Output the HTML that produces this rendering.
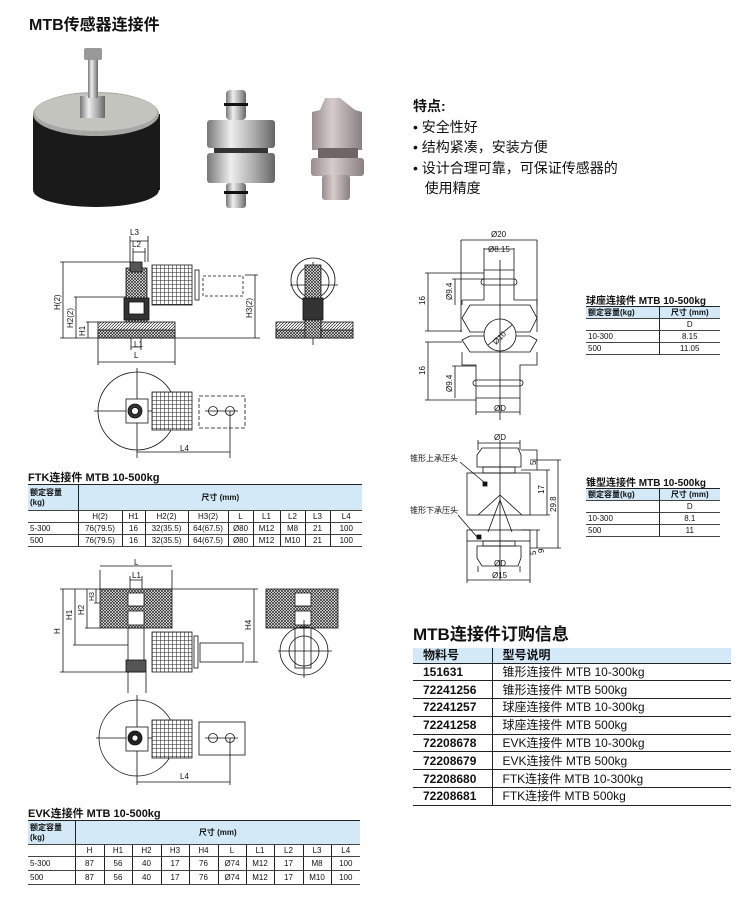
<!DOCTYPE html>
<html><head><meta charset="utf-8">
<style>
*{margin:0;padding:0;box-sizing:border-box}
body{width:750px;height:911px;background:#fff;position:relative;overflow:hidden;font-family:"Liberation Sans","Noto Sans CJK SC",sans-serif;color:#111}
.a{position:absolute}
.t{position:absolute;font-weight:bold;white-space:nowrap}
table{position:absolute;border-collapse:collapse;font-size:8px;line-height:1}
td{padding:0 2px;height:12px;text-align:center;border-left:1px solid #222;border-bottom:1px solid #444;white-space:nowrap}
td:first-child{border-left:none;text-align:left}
.hd td{background:#d3e9f7;font-weight:bold}
.ord{font-size:12px;border-top:none}
.ord td{height:17.8px;border-bottom:1px solid #222;text-align:left;padding-left:10px}
.ord td:first-child{font-weight:bold;padding-left:10px}
.ord .hd td{height:15px;background:#d3e9f7;font-weight:bold}
</style></head><body>
<div class="t" style="left:29px;top:11px;font-size:16px">MTB传感器连接件</div>

<div class="a" style="left:413px;top:96px;font-size:14px;line-height:20.5px">
<b>特点:</b><br>• 安全性好<br>• 结构紧凑，安装方便<br>• 设计合理可靠，可保证传感器的<br>&nbsp;&nbsp;&nbsp;使用精度</div>

<svg class="a" style="left:0;top:0" width="750" height="911" viewBox="0 0 750 911">
<defs>
<pattern id="x" width="3" height="3" patternUnits="userSpaceOnUse"><rect width="3" height="3" fill="#fff"/><path d="M0 0L3 3M3 0L0 3" stroke="#222" stroke-width=".7"/></pattern>
<pattern id="h" width="3" height="3" patternUnits="userSpaceOnUse"><rect width="3" height="3" fill="#fff"/><path d="M0 3L3 0" stroke="#222" stroke-width=".7"/></pattern>
<pattern id="k" width="4" height="4" patternUnits="userSpaceOnUse"><rect width="4" height="4" fill="#fff"/><path d="M0 0H4M0 0V4" stroke="#222" stroke-width="1.1"/></pattern>
<linearGradient id="m" x1="0" x2="1"><stop offset="0" stop-color="#777"/><stop offset=".35" stop-color="#eee"/><stop offset=".7" stop-color="#aaa"/><stop offset="1" stop-color="#666"/></linearGradient>
<linearGradient id="p" x1="0" x2="1"><stop offset="0" stop-color="#988c8c"/><stop offset=".4" stop-color="#d6cccc"/><stop offset="1" stop-color="#8a7f80"/></linearGradient>
</defs>
<!-- photos -->
<rect x="33" y="114" width="127" height="76" fill="#1a1a1a"/>
<ellipse cx="96" cy="190" rx="63" ry="17" fill="#1a1a1a"/>
<ellipse cx="96" cy="114" rx="63" ry="22" fill="#a8a8a4"/>
<ellipse cx="96" cy="112" rx="61" ry="19" fill="#c4c4bf"/>
<rect x="80" y="96" width="25" height="22" fill="url(#m)"/>
<rect x="88" y="60" width="10" height="38" fill="url(#m)"/>
<rect x="84" y="48" width="18" height="12" rx="2" fill="#999"/>
<rect x="226" y="90" width="20" height="30" rx="4" fill="url(#m)"/>
<rect x="224" y="103" width="24" height="3" fill="#111"/>
<rect x="207" y="120" width="68" height="28" rx="3" fill="url(#m)"/>
<rect x="214" y="148" width="54" height="6" fill="#333"/>
<rect x="207" y="153" width="68" height="30" rx="3" fill="url(#m)"/>
<rect x="226" y="183" width="20" height="25" rx="3" fill="url(#m)"/>
<rect x="224" y="191" width="24" height="3" fill="#111"/>
<path d="M325 98 L340 98 L355 110 L362 112 L362 150 L312 150 L312 112 L320 110Z" fill="url(#p)"/>
<rect x="318" y="148" width="40" height="10" fill="#6f6565"/>
<rect x="311" y="158" width="53" height="18" rx="3" fill="url(#p)"/>
<rect x="322" y="175" width="28" height="25" rx="3" fill="url(#p)"/>

<g stroke="#111" stroke-width=".8" fill="none" font-size="8" font-family="Liberation Sans">
<!-- FTK front -->
<rect x="98" y="322" width="77" height="16" fill="url(#h)"/>
<rect x="98" y="330" width="77" height="8" fill="url(#x)"/>
<rect x="126" y="268" width="21" height="54" fill="url(#x)"/>
<rect x="124" y="298" width="25" height="22" fill="#333"/>
<rect x="129" y="302" width="15" height="12" fill="#fff"/>
<rect x="130" y="262" width="12" height="10" fill="#555"/>
<rect x="152" y="265" width="40" height="40" fill="url(#k)"/>
<rect x="195" y="270" width="4" height="30"/>
<rect x="203" y="276" width="40" height="20" stroke-dasharray="3 2"/>
<path d="M130 236V262M148 236V262M130 241H148M133 248V262M145 248V262M133 252H145"/>
<path d="M60 262H130M63 262V338M74 297H126M76 297V338M86 322H98M88 322V338M60 338H260M255 275V338M245 275H258"/>
<path d="M98 338V365M175 338V365M98 362H175M131 338V350M141 338V350M131 347H141"/>
<g fill="#111" stroke="none"><text x="130" y="235">L3</text><text x="132" y="247">L2</text><text x="134" y="347">L1</text><text x="134" y="358">L</text>
<text transform="translate(60,310) rotate(-90)">H(2)</text><text transform="translate(73,328) rotate(-90)">H2(2)</text><text transform="translate(85,336) rotate(-90)">H1</text><text transform="translate(252,318) rotate(-90)">H3(2)</text></g>
<!-- FTK side -->
<circle cx="313" cy="280" r="22"/><circle cx="313" cy="282" r="16"/>
<path d="M290 285H338M313 262V345"/>
<rect x="276" y="322" width="77" height="16" fill="url(#h)"/>
<rect x="276" y="330" width="77" height="8" fill="url(#x)"/>
<rect x="305" y="265" width="16" height="73" fill="url(#x)"/>
<rect x="303" y="298" width="20" height="22" fill="#333"/>
<!-- FTK top -->
<circle cx="137" cy="411" r="39"/>
<path d="M94 411H175M137 368V455"/>
<rect x="126" y="399" width="22" height="24" fill="#fff"/>
<circle cx="135" cy="411" r="7" fill="#333"/><circle cx="135" cy="411" r="3.5" fill="#fff"/>
<rect x="152" y="392" width="40" height="38" fill="url(#k)"/>
<rect x="199" y="396" width="46" height="32" stroke-dasharray="4 2"/>
<circle cx="213" cy="411" r="4.5"/><circle cx="230" cy="411" r="4.5"/>
<path d="M205 411H238M137 455V458M230 411V458M137 452H230"/>
<text x="180" y="451" fill="#111" stroke="none">L4</text>

<!-- EVK front -->
<rect x="100" y="589" width="72" height="39" fill="url(#x)"/>
<rect x="128" y="593" width="16" height="13" fill="#fff"/><rect x="128" y="611" width="16" height="14" fill="#fff"/>
<rect x="128" y="628" width="16" height="44"/>
<rect x="126" y="660" width="20" height="12" fill="#555"/>
<rect x="152" y="632" width="40" height="40" fill="url(#k)"/>
<rect x="194" y="636" width="4" height="32"/>
<rect x="200" y="643" width="43" height="19"/>
<path d="M100 570V589M172 570V589M100 566H172M130 576V589M142 576V589M130 580H142"/>
<path d="M60 589H258M63 589V672M60 672H130M75 589V645M73 645H128M87 589V628M85 628H100M96 589V603M94 603H100M254 589V662M245 662H258M128 672V693M146 672V693"/>
<g fill="#111" stroke="none"><text x="134" y="565">L</text><text x="132" y="578">L1</text>
<text transform="translate(60,634) rotate(-90)">H</text><text transform="translate(72,620) rotate(-90)">H1</text><text transform="translate(84,615) rotate(-90)">H2</text><text transform="translate(94,601) rotate(-90)" font-size="7">H3</text><text transform="translate(251,630) rotate(-90)">H4</text></g>
<!-- EVK side -->
<rect x="266" y="589" width="72" height="39" fill="url(#x)"/>
<rect x="295" y="593" width="16" height="13" fill="#fff"/><rect x="295" y="611" width="16" height="14" fill="#fff"/>
<circle cx="304" cy="651" r="24"/><circle cx="304" cy="651" r="15"/>
<path d="M278 651H332M304 620V678"/>
<rect x="295" y="628" width="16" height="40"/>
<!-- EVK top -->
<circle cx="137" cy="738" r="38"/>
<path d="M96 738H176M137 695V785"/>
<rect x="126" y="727" width="22" height="24" fill="#fff"/>
<circle cx="135" cy="738" r="7" fill="#222"/><circle cx="135" cy="738" r="3" fill="#fff"/>
<rect x="152" y="720" width="40" height="38" fill="url(#k)"/>
<rect x="199" y="722" width="46" height="33"/>
<circle cx="213" cy="738" r="4.5"/><circle cx="230" cy="738" r="4.5"/>
<path d="M205 738H238M230 738V785M137 782H230"/>
<text x="180" y="779" fill="#111" stroke="none">L4</text>

<!-- ball seat -->
<path d="M461 240V332M537 240V332M461 240H537M484 248V270M514 248V270M484 249H514"/>
<path d="M484 270V300M514 270V300M484 270H514" />
<rect x="481" y="279" width="36" height="6" rx="3"/>
<path d="M462 300H484M514 300H537M462 300V305M537 300V305"/>
<path d="M470 305L462 318L470 332H530L537 318L530 305Z"/>
<path d="M470 336L462 340L470 352H530L537 340L530 336Z"/>
<circle cx="500" cy="335" r="16" fill="#fff"/>
<path d="M488 345L512 325M500 260V420"/>
<path d="M462 352V365H476V398H520V365H537V352"/>
<rect x="473" y="380" width="50" height="6" rx="3"/>
<path d="M476 398V415M520 398V415M476 412H520"/>
<path d="M425 273H484M428 273V331M425 331H462M425 342H462M428 342V400M425 400H476M452 279H484M455 279V305M452 366H476M455 366V398"/>
<g fill="#111" stroke="none"><text x="491" y="237">Ø20</text><text x="488" y="252">Ø8.15</text><text x="494" y="411">ØD</text>
<text transform="translate(425,305) rotate(-90)">16</text><text transform="translate(425,375) rotate(-90)">16</text>
<text transform="translate(452,300) rotate(-90)">Ø9.4</text><text transform="translate(452,392) rotate(-90)">Ø9.4</text>
<text transform="translate(496,345) rotate(-45)">Ø10</text></g>
<!-- cone -->
<path d="M478 440V450M520 440V450M478 443H520"/>
<path d="M482 448H518L521 455V467H477V455Z"/>
<rect x="483" y="467" width="32" height="6"/>
<rect x="467" y="473" width="63" height="42"/>
<path d="M478 515L500 495L522 515M488 532L500 500L512 532"/>
<rect x="467" y="530" width="63" height="11"/>
<rect x="483" y="541" width="32" height="5"/>
<path d="M477 546H521V558L518 566H482L477 558Z"/>
<path d="M500 440V580M467 541V583M530 541V583M467 580H530M478 566V572M520 566V572"/>
<path d="M521 450H537M537 450V470M521 470H550M547 470V515M530 515H550M530 460H561M558 460V548M530 548H561M537 530V548M521 530H540"/>
<path d="M460 462L485 483M458 515L477 537"/>
<rect x="483" y="482" width="4" height="4" fill="#111"/><rect x="477" y="535" width="4" height="4" fill="#111"/>
<g fill="#111" stroke="none"><text x="494" y="440">ØD</text><text x="494" y="566">ØD</text><text x="492" y="578">Ø15</text>
<text transform="translate(536,465) rotate(-90)">5</text><text transform="translate(544,494) rotate(-90)">17</text><text transform="translate(556,512) rotate(-90)">29.8</text>
<text transform="translate(544,553) rotate(-90)">9</text><text transform="translate(536,555) rotate(-90)">5</text></g>
<text x="410" y="461" fill="#111" stroke="none" font-family="Liberation Sans,Noto Sans CJK SC">锥形上承压头</text>
<text x="410" y="513" fill="#111" stroke="none" font-family="Liberation Sans,Noto Sans CJK SC">锥形下承压头</text>
</g>
</svg>

<div class="t" style="left:28px;top:469px;font-size:11px">FTK连接件 MTB 10-500kg</div>
<table style="left:28px;top:484px;width:334px;border-top:1.5px solid #222">
<tr class="hd"><td style="height:26px;width:50px;line-height:10px">额定容量<br>(kg)</td><td colspan="9">尺寸 (mm)</td></tr>
<tr><td></td><td style="width:44px">H(2)</td><td style="width:23px">H1</td><td style="width:43px">H2(2)</td><td style="width:40px">H3(2)</td><td style="width:25px">L</td><td style="width:27px">L1</td><td style="width:25px">L2</td><td style="width:25px">L3</td><td>L4</td></tr>
<tr><td>5-300</td><td>76(79.5)</td><td>16</td><td>32(35.5)</td><td>64(67.5)</td><td>Ø80</td><td>M12</td><td>M8</td><td>21</td><td>100</td></tr>
<tr><td>500</td><td>76(79.5)</td><td>16</td><td>32(35.5)</td><td>64(67.5)</td><td>Ø80</td><td>M12</td><td>M10</td><td>21</td><td>100</td></tr>
</table>

<div class="t" style="left:28px;top:805px;font-size:11px">EVK连接件 MTB 10-500kg</div>
<table style="left:28px;top:820px;width:332px;border-top:1.5px solid #222">
<tr class="hd"><td style="height:24px;width:47px;line-height:10px">额定容量<br>(kg)</td><td colspan="10">尺寸 (mm)</td></tr>
<tr><td></td><td style="width:29px">H</td><td style="width:28px">H1</td><td style="width:29px">H2</td><td style="width:28px">H3</td><td style="width:29px">H4</td><td style="width:28px">L</td><td style="width:28px">L1</td><td style="width:29px">L2</td><td style="width:28px">L3</td><td>L4</td></tr>
<tr><td style="height:14px">5-300</td><td>87</td><td>56</td><td>40</td><td>17</td><td>76</td><td>Ø74</td><td>M12</td><td>17</td><td>M8</td><td>100</td></tr>
<tr><td style="height:14px">500</td><td>87</td><td>56</td><td>40</td><td>17</td><td>76</td><td>Ø74</td><td>M12</td><td>17</td><td>M10</td><td>100</td></tr>
</table>

<div class="t" style="left:586px;top:292px;font-size:10px">球座连接件 MTB 10-500kg</div>
<table style="left:586px;top:306px;width:134px;border-top:1.5px solid #222">
<tr class="hd"><td style="width:73px">额定容量(kg)</td><td>尺寸 (mm)</td></tr>
<tr><td></td><td>D</td></tr><tr><td>10-300</td><td>8.15</td></tr><tr><td>500</td><td>11.05</td></tr>
</table>
<div class="t" style="left:586px;top:474px;font-size:10px">锥型连接件 MTB 10-500kg</div>
<table style="left:586px;top:488px;width:134px;border-top:1.5px solid #222">
<tr class="hd"><td style="width:73px">额定容量(kg)</td><td>尺寸 (mm)</td></tr>
<tr><td></td><td>D</td></tr><tr><td>10-300</td><td>8.1</td></tr><tr><td>500</td><td>11</td></tr>
</table>

<div class="t" style="left:413px;top:620px;font-size:17px">MTB连接件订购信息</div>
<table class="ord" style="left:413px;top:648px;width:318px">
<tr class="hd"><td style="width:79px">物料号</td><td>型号说明</td></tr>
<tr><td>151631</td><td>锥形连接件 MTB 10-300kg</td></tr>
<tr><td>72241256</td><td>锥形连接件 MTB 500kg</td></tr>
<tr><td>72241257</td><td>球座连接件 MTB 10-300kg</td></tr>
<tr><td>72241258</td><td>球座连接件 MTB 500kg</td></tr>
<tr><td>72208678</td><td>EVK连接件 MTB 10-300kg</td></tr>
<tr><td>72208679</td><td>EVK连接件 MTB 500kg</td></tr>
<tr><td>72208680</td><td>FTK连接件 MTB 10-300kg</td></tr>
<tr><td>72208681</td><td>FTK连接件 MTB 500kg</td></tr>
</table>
</body></html>
